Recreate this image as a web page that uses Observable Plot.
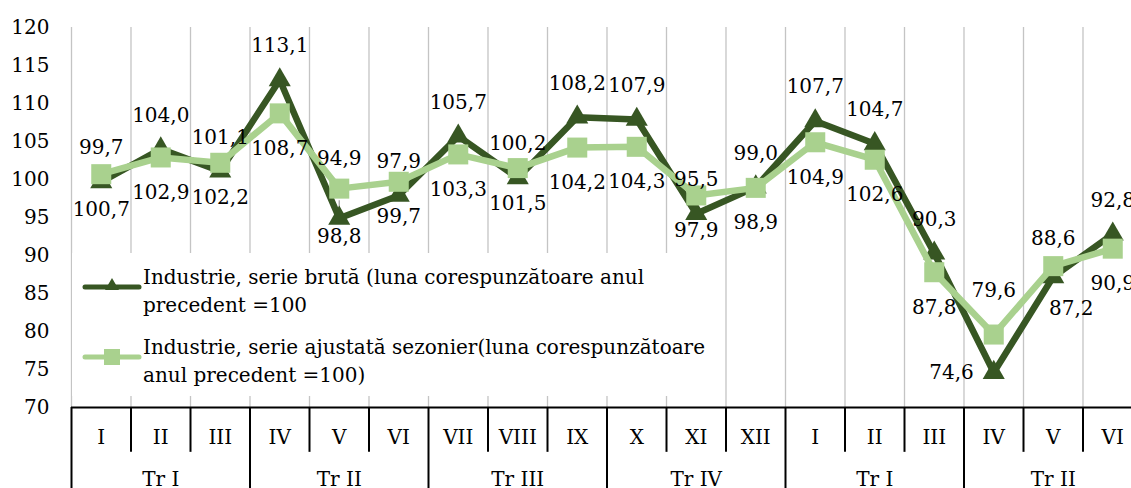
<!DOCTYPE html>
<html><head><meta charset="utf-8">
<script src="https://cdn.jsdelivr.net/npm/d3@7"></script>
<script src="https://cdn.jsdelivr.net/npm/@observablehq/plot@0.6"></script>
<style>
body{margin:0;background:#fff;}
#wrap{position:relative;width:1131px;height:488px;overflow:hidden;font-family:"DejaVu Serif";}
#wrap svg{display:block}
#legend{position:absolute;left:72px;top:253px;width:648px;height:143px;background:#fff;font-size:20px;color:#000;font-family:"DejaVu Serif";}
.item{position:absolute;left:0;}
.item svg{position:absolute;left:10px;top:4px;}
.item .txt{position:absolute;left:71px;top:0;line-height:28px;white-space:nowrap;}
</style>
</head><body><div id="wrap"></div>
<script>
const months = ["I","II","III","IV","V","VI","VII","VIII","IX","X","XI","XII","I","II","III","IV","V","VI"];
const quarters = ["Tr I","Tr II","Tr III","Tr IV","Tr I","Tr II"];
const bruta = [99.7,104.0,101.1,113.1,94.9,97.9,105.7,100.2,108.2,107.9,95.5,99.0,107.7,104.7,90.3,74.6,87.2,92.8];
const ajustata = [100.7,102.9,102.2,108.7,98.8,99.7,103.3,101.5,104.2,104.3,97.9,98.9,104.9,102.6,87.8,79.6,88.6,90.9];
const seriesLines = [
  ["Industrie, serie brută (luna corespunzătoare anul", "precedent =100"],
  ["Industrie, serie ajustată sezonier(luna corespunzătoare", "anul precedent =100)"]
];
const yTicks = [70,75,80,85,90,95,100,105,110,115,120];

const dark = "#375623", light = "#a9d18e";
const FS = 20;
const fmt = v => d3.format(".1f")(v).replace(".", ",");
const rows = months.map((m,i)=>({i, m, xi:i+0.5, b:bruta[i], a:ajustata[i]}));
// label placement rules (layout only)
const flipped = d => d.i >= 12 && d.a > d.b;          // adjusted label on top
const lifted = d => !flipped(d) && d.a - d.b > 3;     // raw label pushed above the square
const normal = rows.filter(d => !flipped(d) && !lifted(d));
const liftRows = rows.filter(lifted);
const flipRows = rows.filter(flipped);
const flipLeft = flipRows.filter(d => d.b < 77), flipBelow = flipRows.filter(d => d.b >= 77);
const nonFlip = rows.filter(d => !flipped(d) && !lifted(d));
const nQ = quarters.length, perQ = months.length/nQ;
const bounds = d3.range(0, months.length+1);
const qBounds = bounds.filter(b=>b%perQ===0), mBounds = bounds.filter(b=>b%perQ!==0);
const T = {fontSize:FS, fill:"#000", fontFamily:"DejaVu Serif"};

const chart = Plot.plot({
  width:1131, height:488,
  marginLeft:71, marginRight:0, marginTop:27, marginBottom:81,
  style:{fontFamily:"DejaVu Serif", fontSize:FS+"px", color:"#000", background:"#fff"},
  x:{domain:[0, months.length], range:[71,1142], axis:null},
  y:{domain:[70,120], range:[407,27]},
  marks:[
    Plot.ruleX(bounds.slice(0,-1), {x:d=>d, y1:70, y2:120, stroke:"#c4c4c4", strokeWidth:1.3}),
    Plot.axisY({ticks:yTicks, tickSize:0, tickPadding:22, fontSize:FS, fontFamily:"DejaVu Serif", label:null}),
    Plot.ruleY([70], {stroke:"#000", strokeWidth:2}),
    Plot.ruleX(mBounds, {x:d=>d, y1:70, y2:64.1, stroke:"#000", strokeWidth:2}),
    Plot.ruleX(qBounds, {x:d=>d, y1:70, y2:50, stroke:"#000", strokeWidth:2}),
    Plot.text(rows, {x:"xi", y:70, dy:30, text:"m", ...T}),
    Plot.text(quarters, {x:(d,i)=>i*perQ+perQ/2, y:70, dy:72, text:d=>d, ...T}),
    // leader lines
    Plot.ruleX(liftRows, {x:"xi", y1:d=>d.a-1.6, y2:d=>d.b+0.3, stroke:"#a6a6a6", strokeWidth:1.3}),
    Plot.line(rows, {x:"xi", y:"b", stroke:dark, strokeWidth:6.5}),
    Plot.dot(rows, {x:"xi", y:"b", symbol:"triangle", r:8.2, fill:dark, stroke:null}),
    Plot.line(rows, {x:"xi", y:"a", stroke:light, strokeWidth:6.5}),
    Plot.dot(rows, {x:"xi", y:"a", symbol:"square", r:11.3, fill:light, stroke:null}),
    // data labels
    Plot.text(normal, {x:"xi", y:"b", dy:-34, text:d=>fmt(d.b), ...T}),
    Plot.text(liftRows, {x:"xi", y:"a", dy:-30, text:d=>fmt(d.b), ...T}),
    Plot.text(liftRows, {x:"xi", y:"b", dy:18, text:d=>fmt(d.a), ...T}),
    Plot.text(nonFlip, {x:"xi", y:"a", dy:35, text:d=>fmt(d.a), ...T}),
    Plot.text(flipLeft, {x:"xi", y:"a", dy:-44, text:d=>fmt(d.a), ...T}),
    Plot.text(flipBelow, {x:"xi", y:"a", dy:-28, text:d=>fmt(d.a), ...T}),
    Plot.text(flipLeft, {x:"xi", y:"b", dx:-20, text:d=>fmt(d.b), textAnchor:"end", ...T}),
    Plot.text(flipBelow, {x:"xi", y:"b", dy:32, dx:18, text:d=>fmt(d.b), ...T})
  ]
});
const wrap = document.getElementById("wrap");
wrap.appendChild(chart);

const legend = document.createElement("div");
legend.id = "legend";
const syms = [
  `<line x1="3" y1="20" x2="57" y2="20" stroke="${dark}" stroke-width="5" stroke-linecap="round"/><path d="M30,11 L37,23 L23,23 Z" fill="${dark}"/>`,
  `<line x1="3" y1="20" x2="57" y2="20" stroke="${light}" stroke-width="5" stroke-linecap="round"/><rect x="22" y="12" width="16" height="16" fill="${light}"/>`
];
seriesLines.forEach((lines,k)=>{
  const it = document.createElement("div");
  it.className = "item";
  it.style.top = (10 + k*70) + "px";
  it.innerHTML = `<svg width="60" height="40">${syms[k]}</svg><div class="txt">${lines.join("<br>")}</div>`;
  legend.appendChild(it);
});
wrap.appendChild(legend);
</script>
</body></html>
